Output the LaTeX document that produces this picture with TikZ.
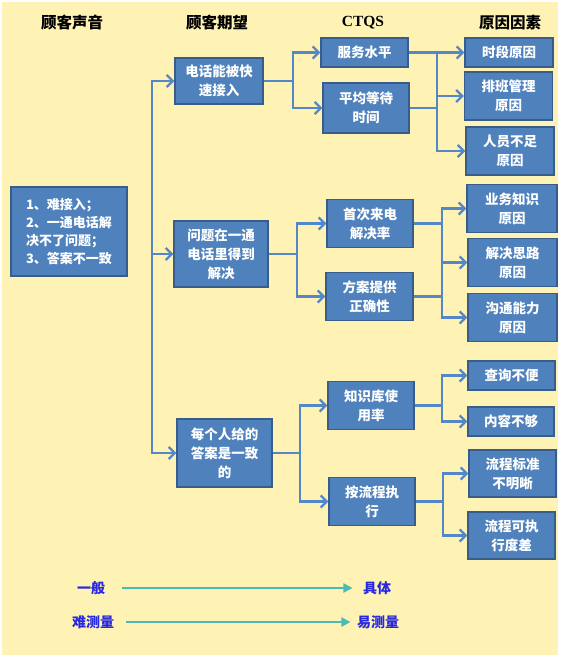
\documentclass[tikz,border=0pt]{standalone}
\usepackage{fontspec}
\setmainfont{Noto Sans CJK SC}
\newfontfamily\latinserif{Liberation Serif}
\usetikzlibrary{arrows.meta, positioning}
\definecolor{paper}{RGB}{255,242,181}
\definecolor{boxblue}{RGB}{79,129,189}
\definecolor{boxedge}{RGB}{56,93,138}
\definecolor{linkblue}{RGB}{84,135,200}
\definecolor{trendteal}{RGB}{72,188,180}
\definecolor{labelblue}{RGB}{40,40,225}
\tikzset{x=1pt, y=-1pt, % One unit is one pixel of the page, y runs downwards
cbox/.style={ % Sets the properties for each box
  draw=boxedge, line width=1.4pt, fill=boxblue, text=white,
  font=\bfseries\fontsize{13.5}{19}\selectfont, align=center,
  minimum width=88pt, inner sep=1pt},
tall/.style={cbox, minimum height=48pt}, % two line boxes
flat/.style={cbox, minimum height=29pt}, % one line boxes
heading/.style={font=\bfseries\fontsize{15.5}{17}\selectfont}, % column titles
link/.style={draw=linkblue, line width=2.3pt}, % plain connector
into/.style={link, -{Straight Barb[length=6pt, width=12pt]}}, % connector with open arrow
trendlabel/.style={text=labelblue, font=\bfseries\fontsize{14}{16}\selectfont},
trend/.style={draw=trendteal, line width=2.4pt, -{Triangle[length=9pt, width=9pt]}}}

\begin{document}
\begin{tikzpicture}
    \useasboundingbox (0,0) rectangle (560,658);
    \fill[paper] (2,2) rectangle (558,655);
    % column titles
    \node[heading] (hvoice) at (72,23) {顾客声音};
    \node[heading] (hexpect) at (217,23) {顾客期望};
    \node[heading] (hctq) at (363,23) {\latinserif CTQS};
    \node[heading] (hcause) at (510,23) {原因因素};
    % voice of the customer
    \node[cbox, minimum width=116pt, minimum height=89pt, align=left,
          font=\bfseries\fontsize{13}{18}\selectfont] (voice) at (69,231.5)
          {1、难接入；\\2、一通电话解\\决不了问题；\\3、答案不一致};
    % expectations
    \node[tall, minimum height=46pt] (exp1) at (219,81) {电话能被快\\速接入};
    \node[cbox, minimum width=94pt, minimum height=66pt] (exp2) at (221,254) {问题在一通\\电话里得到\\解决};
    \node[cbox, minimum width=95pt, minimum height=68pt] (exp3) at (224.5,453) {每个人给的\\答案是一致\\的};
    % CTQS
    \node[flat, minimum width=87pt] (ctq1) at (364.5,52.5) {服务水平};
    \node[tall, minimum width=86pt, minimum height=50pt] (ctq2) at (366,108) {平均等待\\时间};
    \node[tall, minimum width=86pt] (ctq3) at (370,223.5) {首次来电\\解决率};
    \node[tall, minimum width=87pt] (ctq4) at (369.5,296.5) {方案提供\\正确性};
    \node[tall, minimum width=86pt] (ctq5) at (371,405.5) {知识库使\\用率};
    \node[tall, minimum width=86pt] (ctq6) at (372,501.5) {按流程执\\行};
    % causes
    \node[flat] (cause1) at (509,52.5) {时段原因};
    \node[tall] (cause2) at (508.5,96) {排班管理\\原因};
    \node[tall] (cause3) at (510,151) {人员不足\\原因};
    \node[tall, minimum width=90pt] (cause4) at (512,208.5) {业务知识\\原因};
    \node[tall, minimum width=89pt] (cause5) at (512.5,262.5) {解决思路\\原因};
    \node[tall, minimum width=89pt] (cause6) at (512.5,317.5) {沟通能力\\原因};
    \node[flat, minimum width=87pt] (cause7) at (511.5,375.5) {查询不便};
    \node[flat, minimum width=86pt] (cause8) at (511,421.5) {内容不够};
    \node[tall, minimum width=87pt, minimum height=47pt] (cause9) at (512.5,473.5) {流程标准\\不明晰};
    \node[tall, minimum width=87pt, minimum height=47pt] (cause10) at (511.5,535.5) {流程可执\\行度差};
    % junctions
    \coordinate (t0) at (152,254);
    \coordinate (j1) at (293,81);
    \coordinate (k1) at (437,108);
    \coordinate (j2) at (297,254);
    \coordinate (k2) at (442,262.5);
    \coordinate (j3) at (300,453);
    \coordinate (k3) at (442,405.5);
    \coordinate (k4) at (443,501.5);
    % trunk to the expectations
    \draw[into] (t0) |- (exp1);
    \draw[into] (t0) -- (exp2);
    \draw[into] (t0) |- (exp3);
    % expectations to CTQS
    \draw[link] (exp1) -- (j1);
    \draw[into] (j1) |- (ctq1);
    \draw[into] (j1) |- (ctq2);
    \draw[link] (exp2) -- (j2);
    \draw[into] (j2) |- (ctq3);
    \draw[into] (j2) |- (ctq4);
    \draw[link] (exp3) -- (j3);
    \draw[into] (j3) |- (ctq5);
    \draw[into] (j3) |- (ctq6);
    % CTQS to causes
    \draw[into] (ctq1) -- (cause1);
    \draw[link] (ctq2) -- (k1);
    \draw[link] (k1) -- (k1 |- ctq1);
    \draw[into] (k1) |- (cause2);
    \draw[into] (k1) |- (cause3);
    \draw[link] (ctq3) -- (ctq3 -| k2);
    \draw[link] (ctq4) -- (ctq4 -| k2);
    \draw[into] (k2) |- (cause4);
    \draw[into] (k2) -- (cause5);
    \draw[into] (k2) |- (cause6);
    \draw[link] (ctq5) -- (k3);
    \draw[into] (k3) |- (cause7);
    \draw[into] (k3) |- (cause8);
    \draw[link] (ctq6) -- (k4);
    \draw[into] (k4) |- (cause9);
    \draw[into] (k4) |- (cause10);
    % general to specific
    \node[trendlabel] (general) at (91,588) {一般};
    \node[trendlabel] (specific) at (377,588) {具体};
    \node[trendlabel] (hard) at (93,622) {难测量};
    \node[trendlabel] (easy) at (378,622) {易测量};
    \draw[trend, shorten <=13pt, shorten >=7pt] (general) -- (specific);
    \draw[trend, shorten <=8pt, shorten >=3pt] (hard) -- (easy);
\end{tikzpicture}
\end{document}
